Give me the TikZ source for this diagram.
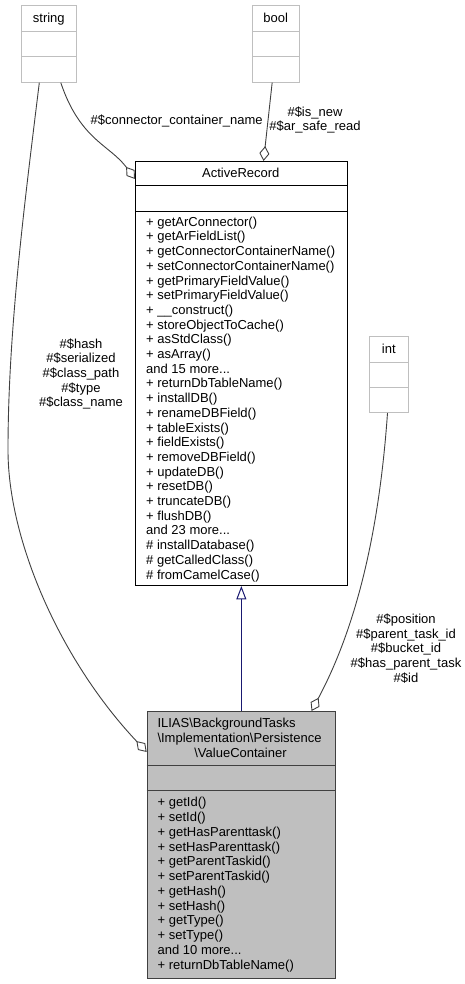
\documentclass[tikz,border=0pt]{standalone}
\usepackage{fontspec}
\setmainfont{Liberation Sans}
\usetikzlibrary{arrows.meta}
\definecolor{typegray}{HTML}{BFBFBF}
\definecolor{edgegray}{HTML}{404040}
\definecolor{mainfill}{HTML}{BFBFBF}
\definecolor{mainline}{HTML}{404040}
\definecolor{inhblue}{HTML}{191970}
\newcommand\andmore[1]{and #1 more...}
\tikzset{
  dox/.style={font=\fontsize{13}{14.7}\selectfont, inner sep=0pt},
  typebox/.style={draw=typegray, line width=1pt, anchor=north west, inner sep=0pt},
  classbox/.style={draw=black, fill=white, line width=1pt, anchor=north west, inner sep=0pt},
  mainbox/.style={draw=mainline, fill=mainfill, line width=1pt, anchor=north west, inner sep=0pt},
  member/.style={dox, anchor=base west},
  uses/.style={draw=edgegray, line width=0.9pt, -{Diamond[open, length=15pt, width=10pt]}},
  inherit/.style={draw=inhblue, line width=1pt, -{Triangle[open, length=13.4pt, width=10pt]}}
}
\begin{document}
\begin{tikzpicture}[x=1pt,y=-1pt]
\useasboundingbox (0,0) rectangle (465,984);
% plain types
\node[typebox, minimum width=55pt, minimum height=76.4pt] (string) at (21.3,5.3) {};
\draw[typegray, line width=1pt] ([yshift=-26.4pt]string.north west) -- ([yshift=-26.4pt]string.north east)
      ([yshift=-51.4pt]string.north west) -- ([yshift=-51.4pt]string.north east);
\node[dox, anchor=base] (stringt) at (48.8,23) {string};

\node[typebox, minimum width=46.7pt, minimum height=76.4pt] (bool) at (252.3,5.3) {};
\draw[typegray, line width=1pt] ([yshift=-26.4pt]bool.north west) -- ([yshift=-26.4pt]bool.north east)
      ([yshift=-51.4pt]bool.north west) -- ([yshift=-51.4pt]bool.north east);
\node[dox, anchor=base] (boolt) at (275.7,23) {bool};

\node[typebox, minimum width=39pt, minimum height=76pt] (int) at (369.3,336) {};
\draw[typegray, line width=1pt] ([yshift=-26pt]int.north west) -- ([yshift=-26pt]int.north east)
      ([yshift=-51pt]int.north west) -- ([yshift=-51pt]int.north east);
\node[dox, anchor=base] (intt) at (388.8,353.5) {int};

% ActiveRecord
\node[classbox, minimum width=211.7pt, minimum height=424pt] (ar) at (135,161) {};
\draw[line width=1pt] ([yshift=-25pt]ar.north west) -- ([yshift=-25pt]ar.north east)
      ([yshift=-50.5pt]ar.north west) -- ([yshift=-50.5pt]ar.north east);
\node[dox, anchor=base] (art) at (240.8,178) {ActiveRecord};
\foreach \m [count=\i from 0] in {+ getArConnector(), + getArFieldList(),
    + getConnectorContainerName(), + setConnectorContainerName(),
    + getPrimaryFieldValue(), + setPrimaryFieldValue(), + \_\_construct(),
    + storeObjectToCache(), + asStdClass(), + asArray(), \andmore{15},
    + returnDbTableName(), + installDB(), + renameDBField(), + tableExists(),
    + fieldExists(), + removeDBField(), + updateDB(), + resetDB(),
    + truncateDB(), + flushDB(), \andmore{23}, \# installDatabase(),
    \# getCalledClass(), \# fromCamelCase()}
  \node[member] (arm\i) at (146,226.2+14.7*\i) {\m};

% ValueContainer
\node[mainbox, minimum width=188.3pt, minimum height=267pt] (vc) at (146.7,711) {};
\draw[mainline, line width=1pt] ([yshift=-54.5pt]vc.north west) -- ([yshift=-54.5pt]vc.north east)
      ([yshift=-79.5pt]vc.north west) -- ([yshift=-79.5pt]vc.north east);
\node[member] (vct1) at (157.3,727.2) {ILIAS\textbackslash BackgroundTasks};
\node[member] (vct2) at (157.3,742.2) {\textbackslash Implementation\textbackslash Persistence};
\node[dox, anchor=base] (vct3) at (240.5,757.2) {\textbackslash ValueContainer};
\foreach \m [count=\i from 0] in {+ getId(), + setId(), + getHasParenttask(),
    + setHasParenttask(), + getParentTaskid(), + setParentTaskid(),
    + getHash(), + setHash(), + getType(), + setType(), \andmore{10},
    + returnDbTableName()}
  \node[member] (vcm\i) at (157.5,806.8+14.75*\i) {\m};

% relations
\draw[uses] ([xshift=11.5pt]string.south) .. controls (80,140) and (110,145) .. ([yshift=-18pt]ar.north west);
\node[dox] (l1) at (176.7,120.7) {\#\$connector\_container\_name};
\draw[uses] ([xshift=-4pt]bool.south) -- ([xshift=22.2pt]ar.north);
\node[dox, align=center] (l2) at (315,120) {\#\$is\_new\\\#\$ar\_safe\_read};
\draw[uses] ([xshift=-10pt]string.south) .. controls (25,200) and (8,330) .. (8,450)
      .. controls (8,540) and (60,660) .. ([yshift=-41pt]vc.north west);
\node[dox, align=center] (l3) at (81,374) {\#\$hash\\\#\$serialized\\\#\$class\_path\\\#\$type\\\#\$class\_name};
\draw[uses] ([xshift=-1.8pt]int.south) .. controls (380,520) and (360,620) .. ([xshift=70.2pt]vc.north);
\node[dox, align=center] (l4) at (406,648.5) {\#\$position\\\#\$parent\_task\_id\\\#\$bucket\_id\\\#\$has\_parent\_task\\\#\$id};
\draw[inherit] (vc.north) -- (ar.south);
\end{tikzpicture}
\end{document}
